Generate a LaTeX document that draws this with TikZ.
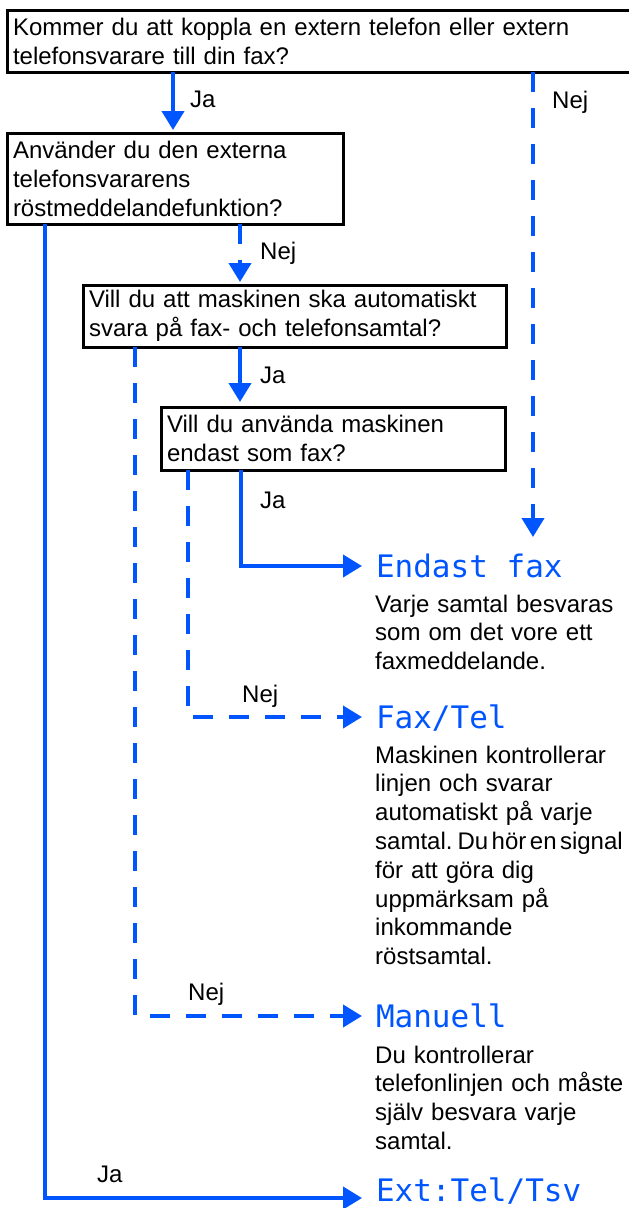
\documentclass[tikz,border=0pt]{standalone}
\usepackage{fontspec}
\setmainfont{Liberation Sans}
\newfontfamily\lcdfont{DejaVu Sans Mono}
\usetikzlibrary{arrows.meta}
\definecolor{flowblue}{RGB}{0,85,255}
\begin{document}
\begin{tikzpicture}[x=1pt,y=-1pt,
  qbox/.style={draw=black, line width=3pt, rectangle, anchor=north west, outer sep=0pt,
    inner xsep=6pt, inner ysep=0pt, align=left, font=\fontsize{24}{29}\selectfont},
  yes/.style={draw=flowblue, line width=4pt, -{Triangle[length=19pt,width=22pt]}},
  no/.style={yes, dash pattern=on 20pt off 16pt},
  lbl/.style={anchor=base west, inner sep=0pt, font=\fontsize{24}{29}\selectfont},
  res/.style={anchor=west, inner xsep=14pt, inner ysep=18pt, outer sep=0pt, text height=22pt,
    text depth=0pt, text=flowblue, font=\lcdfont\fontsize{31}{31}\selectfont},
  desc/.style={anchor=base west, inner sep=0pt, align=left, text width=262pt,
    font=\fontsize{24}{28.8}\selectfont}
]
\useasboundingbox (0,0) rectangle (629,1208);

% question boxes
\node[qbox, minimum width=625pt, minimum height=62pt, text width=613pt] (q1) at (7,10)
  {Kommer du att koppla en extern telefon eller extern\\telefonsvarare till din fax?};
\node[qbox, minimum width=336pt, minimum height=91pt, text width=324pt] (q2) at (7,133)
  {Använder du den externa\\telefonsvararens\\röstmeddelandefunktion?};
\node[qbox, minimum width=423pt, minimum height=62pt, text width=411pt] (q3) at (83,285)
  {Vill du att maskinen ska automatiskt\\svara på fax- och telefonsamtal?};
\node[qbox, minimum width=344pt, minimum height=63pt, text width=332pt] (q4) at (161,407)
  {Vill du använda maskinen\\endast som fax?};

% results
\node[res] (ef) at (362,566) {Endast fax};
\node[res] (ft) at (362,717) {Fax/Tel};
\node[res] (man) at (362,1016) {Manuell};
\node[res, text depth=16pt, inner ysep=0pt] (et) at (362,1198) {Ext:Tel/Tsv};

% descriptions
\node[desc] (efd) at (375,612) {Varje samtal besvaras\\som om det vore ett\\faxmeddelande.};
\node[desc] (ftd) at (375,763) {Maskinen kontrollerar\\linjen och svarar\\automatiskt på varje\\{\spaceskip=3.5pt\xspaceskip=5pt samtal. Du hör en signal}\\för att göra dig\\uppmärksam på\\inkommande\\röstsamtal.};
\node[desc] (mand) at (375,1063) {Du kontrollerar\\telefonlinjen och måste\\själv besvara varje\\samtal.};

% connectors
\draw[yes, shorten >=3pt] (173,0 |- q1.south) -- (173,0 |- q2.north);
\draw[no] (533,0 |- q1.south) -- (533,0 |- ef.north);
\draw[no, shorten >=3pt] (240,0 |- q2.south) -- (240,0 |- q3.north);
\draw[yes] (45,0 |- q2.south) |- (et.west);
\draw[yes, shorten >=5pt] (240,0 |- q3.south) -- (240,0 |- q4.north);
\draw[no] (135,0 |- q3.south) |- (man.west);
\draw[yes] (241,0 |- q4.south) |- (ef.west);
\draw[no] (188,0 |- q4.south) |- (ft.west);

% labels
\node[lbl] (l1) at (190,107) {Ja};
\node[lbl] (l2) at (552,108) {Nej};
\node[lbl] (l3) at (260,259) {Nej};
\node[lbl] (l4) at (260,383) {Ja};
\node[lbl] (l5) at (260,508) {Ja};
\node[lbl] (l6) at (242,702) {Nej};
\node[lbl] (l7) at (188,1000) {Nej};
\node[lbl] (l8) at (97,1182) {Ja};
\end{tikzpicture}
\end{document}
